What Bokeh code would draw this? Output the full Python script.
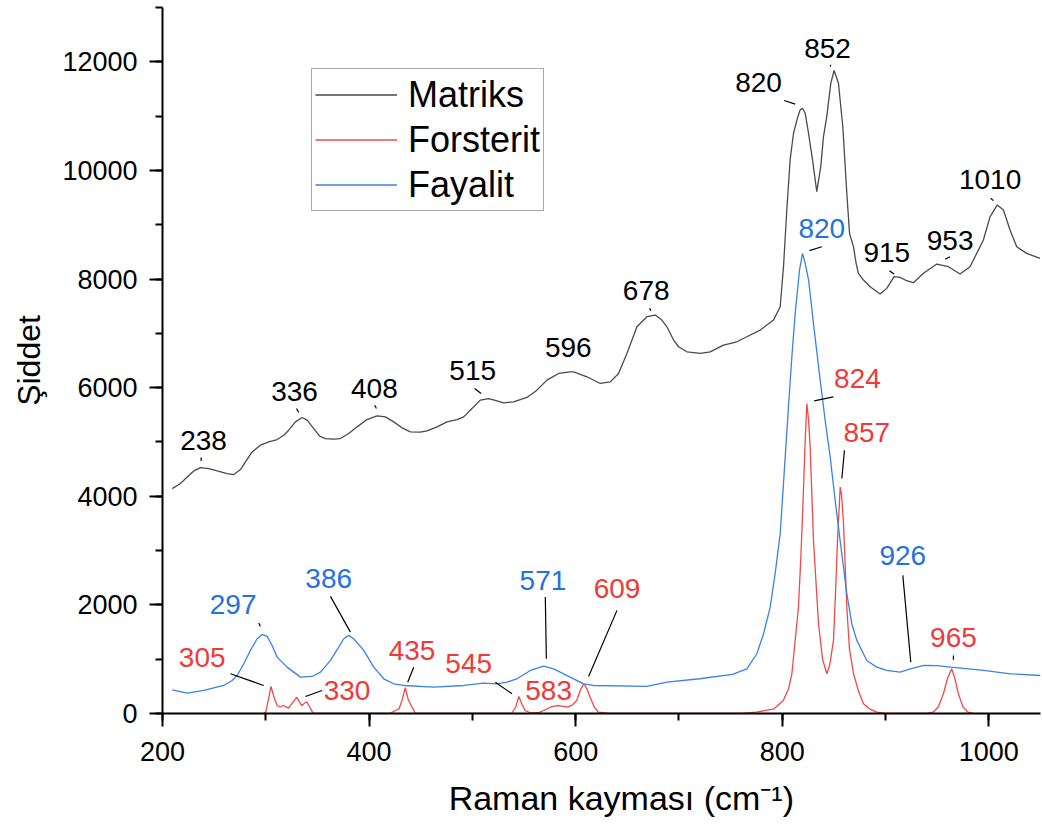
from bokeh.plotting import figure
from bokeh.models import Range1d, SingleIntervalTicker, Legend, LegendItem, ColumnDataSource, BasicTickFormatter
from bokeh.core.properties import value
from bokeh.embed import file_html
from bokeh.resources import INLINE

# ---------------- data ----------------
matriks_x = [209.4, 217.4, 223.9, 230.3, 236.8, 244.8, 252.9, 262.6, 269.0, 275.5, 280.3, 286.8, 294.8,
             302.9, 311.0, 317.4, 322.2, 328.7, 335.1, 340.0, 346.4, 352.2, 357.7, 365.8, 372.2, 380.3,
             388.4, 398.0, 407.7, 415.8, 423.8, 431.9, 440.0, 449.6, 456.1, 465.8, 475.4, 485.1, 491.6,
             499.6, 507.7, 515.8, 523.8, 530.3, 539.9, 552.8, 562.5, 572.2, 583.5, 594.8, 598.0, 610.9,
             623.8, 633.5, 641.5, 649.6, 659.3, 669.0, 677.0, 683.5, 688.3, 694.8, 699.6, 707.7, 720.6,
             730.2, 743.1, 756.0, 765.7, 778.6, 791.5, 798.0, 801.2, 804.4, 807.6, 810.9, 814.7, 817.3,
             819.6, 822.2, 825.4, 829.3, 833.4, 837.3, 839.9, 843.1, 847.0, 850.2, 854.4, 858.6, 862.5,
             865.1, 868.9, 871.5, 873.7, 878.6, 885.1, 894.7, 901.2, 908.3, 914.1, 920.5, 927.0, 936.7,
             949.6, 960.9, 972.1, 981.8, 994.7, 1001.2, 1008.2, 1014.1, 1020.5, 1027.0, 1036.6, 1049.5]
matriks_y = [4141, 4234, 4356, 4467, 4528, 4510, 4467, 4418, 4399, 4492, 4633, 4817, 4940,
             5001, 5045, 5124, 5217, 5370, 5450, 5401, 5247, 5106, 5063, 5051, 5063, 5155,
             5278, 5413, 5481, 5462, 5370, 5260, 5186, 5180, 5204, 5278, 5370, 5413, 5462,
             5616, 5770, 5800, 5757, 5720, 5739, 5819, 5954, 6138, 6261, 6292, 6292, 6200,
             6077, 6107, 6261, 6630, 7121, 7306, 7336, 7244, 7121, 6876, 6753, 6660, 6630,
             6660, 6783, 6845, 6937, 7060, 7244, 7490, 8227, 9272, 10193, 10685, 10962, 11115,
             11146, 11054, 10685, 10193, 9610, 10071, 10624, 10992, 11607, 11840, 11607, 10808, 9579,
             8842, 8596, 8289, 8105, 7981, 7859, 7723, 7828, 8043, 8031, 7969, 7932, 8105,
             8276, 8227, 8092, 8227, 8719, 9149, 9364, 9272, 8903, 8596, 8473, 8381]

fayalit_x = [209.4, 223.9, 240.0, 259.3, 267.4, 272.3, 278.7, 285.1, 291.6, 296.4, 301.3, 306.1, 311.0,
             320.6, 333.5, 344.8, 352.9, 362.6, 370.6, 375.4, 380.3, 385.1, 394.8, 404.5, 414.2, 423.8,
             433.5, 462.5, 491.6, 510.9, 523.8, 533.5, 543.2, 556.1, 569.0, 578.7, 588.3, 598.0, 607.7,
             617.4, 669.0, 688.3, 720.0, 752.0, 765.7, 775.4, 781.9, 788.3, 793.1, 798.0, 801.8, 806.0,
             809.3, 812.5, 816.7, 819.6, 822.2, 825.5, 830.2, 836.7, 841.5, 846.4, 851.2, 856.0, 862.5,
             867.3, 872.2, 881.8, 891.5, 901.2, 914.1, 924.0, 937.0, 950.0, 963.0, 995.0, 1021.0, 1050.0]
fayalit_y = [436, 375, 424, 516, 608, 700, 916, 1161, 1376, 1456, 1419, 1253, 1038,
             854, 670, 682, 762, 977, 1223, 1376, 1438, 1376, 1161, 854, 639, 547,
             516, 485, 516, 559, 547, 578, 639, 793, 872, 823, 731, 639, 547,
             516, 498, 577, 640, 720, 823, 1100, 1469, 1960, 2575, 3312, 4418, 5646,
             6568, 7367, 8166, 8474, 8290, 7982, 7183, 6138, 5401, 4724, 3926, 3189, 2206,
             1653, 1346, 977, 854, 793, 762, 823, 885, 880, 854, 793, 731, 700]

forsterit_x = [298, 300, 303, 305, 308, 311, 314, 317, 322, 326, 330, 333, 335, 338, 340, 343, 346,
               420, 426, 429, 432, 435, 438, 441.6, 445,
               538, 542, 545, 548, 551, 556, 565, 569, 576, 582, 588, 592, 597, 601, 605, 608, 611, 614,
               618, 622, 633,
               760, 775, 792, 801, 806, 809.3, 812.5, 815.7, 818, 819.9, 822.2, 823.8, 825.5, 827, 830.2,
               835.1, 839, 843.2, 846, 849.6, 851.5, 853.5, 856.1, 857.5, 859.3, 862.5, 865, 869, 874,
               878.6, 885, 891.5, 900,
               940, 946, 951, 956, 960, 964, 967, 970.5, 975, 980, 985]
forsterit_y = [0, 30, 300, 498, 300, 147, 120, 147, 100, 200, 300, 200, 147, 200, 208, 100, 0,
               0, 60, 86, 250, 474, 250, 117, 0,
               0, 120, 313, 170, 55, 10, 20, 55, 120, 147, 130, 117, 160, 240, 450, 547, 450, 300,
               120, 25, 0,
               0, 24, 86, 240, 450, 731, 1346, 1960, 2881, 3803, 5032, 5709, 5400, 4909, 3189,
               1653, 1000, 731, 900, 1346, 2200, 3189, 4171, 4000, 3497, 1960, 1200, 731, 400,
               178, 80, 24, 0,
               0, 24, 120, 363, 650, 823, 650, 363, 120, 24, 0]

series_names = ["Matriks", "Forsterit", "Fayalit"]
x_ticks_interval = 200
y_ticks_interval = 2000

# peak labels
black_labels = ["238", "336", "408", "515", "596", "678", "820", "852", "915", "953", "1010"]
blue_labels = ["297", "386", "571", "820", "926"]
red_labels = ["305", "330", "435", "545", "583", "609", "824", "857", "965"]

# ---------------- layout / positions of annotations ----------------
black_pos_x = [239.7, 327.8, 405.1, 500.3, 592.8, 668.3, 777.0, 843.8, 901.2, 962.5, 1001.2]
black_pos_y = [5032, 5935, 5985, 6310, 6747, 7797, 11619, 12252, 8485, 8706, 9825]
blue_pos_x = [268.4, 360.9, 568.3, 838.3, 916.7]
blue_pos_y = [2003, 2483, 2452, 8922, 2912]
red_pos_x = [238.4, 378.7, 441.6, 496.4, 573.8, 640.0, 872.8, 881.8, 965.7]
red_pos_y = [1027, 424, 1161, 916, 424, 2298, 6170, 5167, 1395]

leaders = [  # (x0, y0, x1, y1)
    (237.4, 4713, 237.4, 4651), (329.7, 5617, 331.9, 5543), (405.4, 5677, 407.1, 5617),
    (502.2, 5985, 508.4, 5893), (671.5, 7460, 672.9, 7416), (801.8, 11287, 812.5, 11220),
    (846.4, 11945, 847.0, 11913), (903.7, 8153, 908.3, 8092), (957.6, 8363, 962.5, 8411),
    (1001.8, 9487, 1004.4, 9443),
    (293.2, 1665, 294.8, 1604), (362.6, 2157, 381.9, 1499), (570.6, 2144, 571.6, 1008),
    (826.3, 8522, 838.3, 8595), (916.7, 2544, 924.4, 946),
    (265.8, 732, 298.0, 516), (338.4, 313, 354.5, 424), (443.2, 853, 437.4, 577),
    (522.2, 577, 538.4, 363), (640.0, 1899, 612.5, 682), (830.9, 5757, 849.5, 5830),
    (860.2, 4848, 857.7, 4326), (965.7, 1069, 965.7, 990),
]

FONT = "Liberation Sans"
C_BLACK = "#4a4a4a"
C_RED = "#f24848"
C_BLUE = "#3b82e4"
T_RED = "#f03a3a"
T_BLUE = "#2472e0"

p = figure(width=1042, height=832, output_backend="svg", toolbar_location=None,
           x_range=Range1d(200, 1050), y_range=Range1d(0, 13000),
           min_border_left=162, min_border_right=2, min_border_top=7, min_border_bottom=119)
p.outline_line_color = None
p.xgrid.visible = False
p.ygrid.visible = False
p.background_fill_color = "white"
p.border_fill_color = "white"

p.xaxis.ticker = SingleIntervalTicker(interval=x_ticks_interval, num_minor_ticks=2)
p.yaxis.ticker = SingleIntervalTicker(interval=y_ticks_interval, num_minor_ticks=2)
p.yaxis.formatter = BasicTickFormatter(use_scientific=False)

for ax in (p.xaxis, p.yaxis):
    ax.axis_line_width = 2
    ax.axis_line_color = "black"
    ax.major_tick_line_width = 2
    ax.minor_tick_line_width = 2
    ax.major_tick_line_color = "black"
    ax.minor_tick_line_color = "black"
    ax.major_tick_in = 0
    ax.major_tick_out = 13
    ax.minor_tick_in = 0
    ax.minor_tick_out = 7
    ax.major_label_text_font = FONT
    ax.major_label_text_font_size = "27px"
    ax.major_label_text_color = "black"
    ax.axis_label_text_font = FONT
    ax.axis_label_text_font_style = "normal"
    ax.axis_label_text_color = "black"

p.xaxis.axis_label = "\u2003\u2006Raman kayması (cm⁻¹)"
p.yaxis.axis_label = "Şiddet"
p.xaxis.axis_label_text_font_size = "34px"
p.yaxis.axis_label_text_font_size = "32px"
p.xaxis.major_label_standoff = 15
p.xaxis.axis_label_standoff = 15
p.yaxis.major_label_standoff = 12
p.yaxis.axis_label_standoff = 12

r_m = p.line(matriks_x, matriks_y, line_color=C_BLACK, line_width=1.3)
r_f = p.line(forsterit_x, forsterit_y, line_color=C_RED, line_width=1.3)
r_y = p.line(fayalit_x, fayalit_y, line_color=C_BLUE, line_width=1.3)

# leader lines
p.segment(x0=[l[0] for l in leaders], y0=[l[1] for l in leaders],
          x1=[l[2] for l in leaders], y1=[l[3] for l in leaders],
          line_color="black", line_width=1.2)

def add_labels(xs, ys, texts, color):
    src = ColumnDataSource(dict(x=xs, y=ys, t=texts))
    p.text(x="x", y="y", text="t", source=src, text_font=value(FONT), text_font_size="28px",
           text_color=color, text_align="center", text_baseline="middle")

add_labels(black_pos_x, black_pos_y, black_labels, "black")
add_labels(blue_pos_x, blue_pos_y, blue_labels, T_BLUE)
add_labels(red_pos_x, red_pos_y, red_labels, T_RED)

legend = Legend(items=[LegendItem(label=series_names[0], renderers=[r_m]),
                       LegendItem(label=series_names[1], renderers=[r_f]),
                       LegendItem(label=series_names[2], renderers=[r_y])],
                location=(149, 502))
legend.label_text_font = FONT
legend.label_text_font_size = "36px"
legend.label_text_color = "black"
legend.glyph_width = 82
legend.glyph_height = 45
legend.label_height = 45
legend.label_standoff = 11
legend.spacing = 0
legend.padding = 3
legend.margin = 0
legend.border_line_color = "#555555"
legend.border_line_width = 1.5
legend.background_fill_color = "white"
legend.background_fill_alpha = 1
p.add_layout(legend, "center")

open("out.html", "w").write(file_html(p, INLINE))
